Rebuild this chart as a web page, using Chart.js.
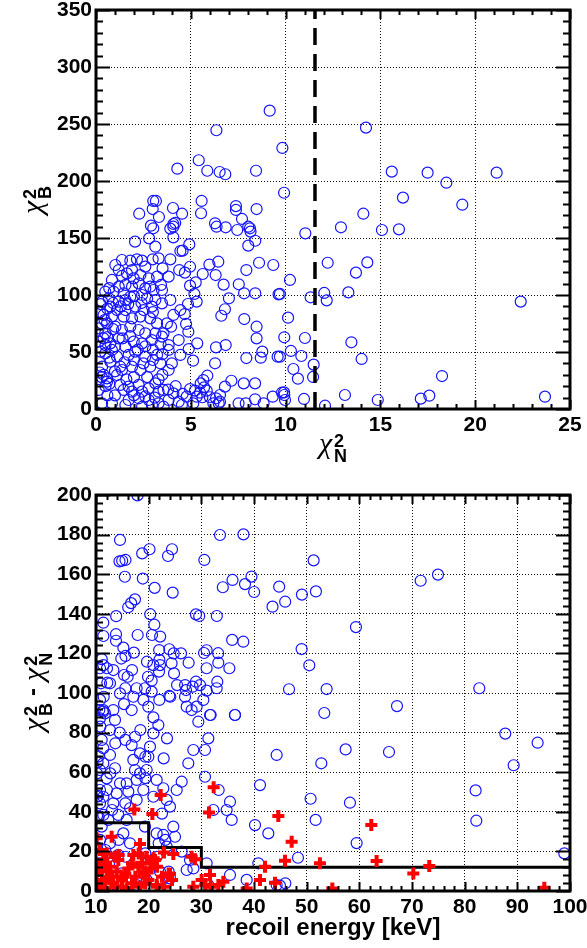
<!DOCTYPE html>
<html>
<head>
<meta charset="utf-8">
<script src="https://cdn.jsdelivr.net/npm/chart.js@4.4.1/dist/chart.umd.min.js"></script>
<style>
  body { margin:0; background:#fff; }
  #wrap { position:relative; width:587px; height:948px; background:#fff; font-family:"Liberation Sans", Arial, sans-serif; }
  canvas { position:absolute; left:0; }
  .ttl { position:absolute; text-align:center; color:#000; white-space:nowrap; }
  .chi { font-family:"Liberation Serif", "DejaVu Serif", serif; font-style:italic; font-size:30px; font-weight:normal; }
  .ix { display:inline-block; vertical-align:-9px; line-height:15px; font-size:18px; font-weight:bold; margin-left:2px; text-align:left; }
  .ix b { display:block; }
  .rot { transform:rotate(-90deg); transform-origin:50% 50%; }
  .dash { font-size:24px; font-weight:bold; margin:0 7px; vertical-align:3px; }
</style>
</head>
<body>
<div id="wrap">
  <canvas id="c1" width="587" height="470" style="top:0"></canvas>
  <canvas id="c2" width="587" height="478" style="top:470px"></canvas>
  <div class="ttl" style="left:96px;width:474px;top:426px;"><span class="chi">χ</span><span class="ix"><b>2</b><b>N</b></span></div>
  <div class="ttl rot" style="left:-118px;width:300px;top:180px;height:40px;line-height:40px;"><span class="chi">χ</span><span class="ix"><b>2</b><b>B</b></span></div>
  <div class="ttl rot" style="left:-118px;width:300px;top:672px;height:40px;line-height:40px;"><span class="chi">χ</span><span class="ix"><b>2</b><b>B</b></span><span class="dash">-</span><span class="chi">χ</span><span class="ix"><b>2</b><b>N</b></span></div>
  <div class="ttl" style="left:96px;width:474px;top:912px;font-size:24px;font-weight:bold;line-height:30px;">recoil energy [keV]</div>
</div>
<script>
// ── DATA: top panel (chi2_N, chi2_B) ──
const topRangeX = [0, 25, 5, 1];     // min, max, major, minor
const topRangeY = [0, 350, 50, 10];
const cutN = [11.55, 11.55];
const cutB = [0, 350];

const topPts = [
  [2.28,171.3],[3.02,182.5],[2.99,175.4],[3.32,168.4],[4.29,210.8],[4.06,176.3],[4.54,171.3],[2.90,160.8],[3.02,158.5],[3.92,158.2],[4.08,162.3],[4.18,163.2],[4.08,159.9],[3.16,182.5],
  [5.42,218.2],[5.87,209.0],[6.35,244.5],[6.52,207.9],[6.82,205.9],[5.57,182.5],[5.54,171.7],[6.28,162.9],[6.36,159.9],[6.84,159.4],[7.38,178.0],[7.38,174.6],[7.45,157.0],[7.70,166.7],[8.03,159.9],[8.12,158.5],[8.15,155.6],[8.47,175.4],[8.44,209.0],[9.16,261.7],[9.83,229.0],[9.92,189.7],
  [2.06,146.8],[2.80,149.7],[4.08,150.6],[8.40,147.6],[8.03,143.3],[3.13,142.4],[4.45,138.6],[4.92,144.4],[4.57,138.9],
  [14.24,246.8],[15.60,208.2],[17.49,207.3],[18.48,198.5],[21.13,207.3],[16.19,185.4],[19.32,179.2],[14.10,171.3],[12.92,159.4],[15.08,157.0],[15.98,157.6],[11.04,154.1],
  [12.22,128.3],[14.31,128.6],[13.71,119.6],[10.23,113.2],[9.70,100.9],[11.32,98.0],[12.04,101.8],[12.17,95.3],[13.31,102.3],[22.40,94.2],[10.13,80.1],[9.93,62.9],[11.02,62.3],[13.47,58.5],[10.28,50.9],[9.70,45.9],[10.83,46.5],[14.01,43.9],[11.48,38.9],[10.41,35.1],[10.65,26.6],[11.45,28.1],[18.25,28.9],[9.92,14.6],[13.13,12.3],[17.58,11.7],[17.13,9.1],[14.86,7.9],[10.97,8.8],[9.97,7.9],[23.68,10.8],[12.08,2.9],
  [4.96,124.8],[4.69,119.6],[5.98,126.7],[6.45,129.2],[5.63,118.4],[6.31,117.5],[8.60,128.3],[9.35,126.3],[7.93,121.9],[4.96,108.2],[5.26,111.1],[6.73,109.1],[7.53,109.4],[5.19,100.9],[4.85,92.1],[5.31,94.2],[7.01,97.1],[7.81,101.5],[8.40,101.5],[9.63,100.6],[4.68,83.3],[6.80,87.5],[6.61,81.8],[7.82,78.9],[8.47,72.2],[4.75,74.6],[4.87,67.8],[8.47,62.0],[4.89,52.6],[5.34,57.6],[6.33,54.1],[6.84,56.1],[8.77,50.3],[8.69,45.0],[7.93,44.7],[9.58,45.9],[5.12,42.4],[6.28,40.1],[7.14,24.8],[8.39,22.5],
  [5.87,29.2],[5.66,25.4],[5.52,22.5],[5.70,19.0],[5.84,16.1],[5.49,14.3],[5.22,16.1],[4.96,17.5],[5.31,10.8],[5.61,10.3],[6.01,10.3],[6.33,9.4],[6.54,12.3],[6.80,19.6],[6.54,6.4],[6.19,5.0],[4.78,10.8],[4.57,13.2],[5.13,5.0],
  [7.79,22.5],[8.39,8.5],[7.90,5.0],[9.32,10.8],[9.81,14.3],[9.93,12.3],[6.47,5.0],[7.52,5.0],[8.84,5.0],
  [1.02,126.3],[1.37,130.7],[1.81,130.1],[2.16,131.3],[2.43,130.1],[2.99,131.3],[3.51,123.4],[1.20,121.9],[1.90,121.9],[2.60,124.9],[3.92,131.3],[4.39,121.9],[3.30,132.2],
  [0.84,113.2],[1.37,116.7],[1.63,119.0],[1.99,114.6],[2.34,117.5],[2.78,114.6],[3.22,116.1],[3.43,108.8],[3.83,116.1],[1.20,107.3],[1.55,108.8],[1.90,107.3],[2.25,110.2],[2.60,105.8],[2.86,107.3],[0.49,102.9],[0.93,102.9],[1.46,101.5],[1.81,98.5],[2.43,100.0],[3.04,104.4],[3.48,104.4],[3.92,95.6],
  [0.32,94.2],[0.67,97.1],[0.76,89.8],[1.20,94.2],[1.55,95.6],[1.11,86.8],[1.55,86.8],[2.07,89.8],[2.51,86.8],[2.95,89.8],[3.13,95.6],[3.48,92.7],[0.40,82.5],[0.84,81.0],[1.46,81.0],[1.90,79.5],[2.34,81.0],[2.86,79.5],[3.22,75.1],[3.74,75.1],[4.08,82.5],[4.45,86.8],
  [0.14,70.8],[0.58,75.1],[0.49,66.4],[1.02,72.2],[1.37,69.3],[1.81,72.2],[2.25,69.3],[2.60,66.4],[3.13,66.4],[3.56,66.4],[3.96,72.2],[0.14,59.1],[0.40,62.0],[0.76,57.6],[1.20,62.0],[0.84,51.8],[1.55,54.7],[1.99,59.1],[2.43,57.6],[2.95,60.5],[3.48,63.5],[3.83,56.1],[4.36,60.5],[0.23,50.3],
  [0.49,48.8],[1.11,45.9],[1.72,47.4],[2.07,50.3],[2.60,45.9],[3.22,47.4],[3.83,51.8],[4.45,47.4],[0.32,37.1],[0.76,41.5],[1.28,37.1],[1.37,34.2],[1.90,37.1],[2.34,34.2],[2.86,37.1],[3.39,40.1],[3.83,34.2],[0.58,26.9],[0.58,24.0],[1.11,29.8],
  [0.14,16.7],[0.32,5.0],[1.28,21.1],[1.46,16.7],[1.72,19.6],[1.90,15.2],[2.25,21.1],[2.43,15.2],[2.78,18.1],[3.13,22.5],[3.30,15.2],[3.56,16.7],[4.08,13.7],[1.72,7.9],[2.25,9.4],[2.78,7.9],[3.30,5.0],[3.83,7.9],[4.36,6.4],[4.53,3.5],[0.84,5.0],[1.55,3.5],[2.43,2.0],[2.95,3.5],[3.56,2.0],
  [0.20,85.0],[0.30,75.0],[0.50,56.0],[0.60,63.0],[0.25,92.0],[0.70,106.0],[0.45,78.0],[0.90,93.0],[0.30,28.0],[0.50,20.0],[0.20,32.0],[0.70,22.0],[0.40,30.0],
  [0.60,88.0],[0.90,70.0],[1.30,90.0],[1.70,92.0],[2.00,99.0],[2.40,93.0],[2.70,97.0],[3.00,85.0],[1.00,55.0],[1.40,62.0],[1.80,64.0],[2.20,52.0],[2.60,55.0],[3.00,52.0],[3.40,57.0],[0.70,45.0],[1.50,41.0],[2.00,43.0],[2.50,40.0],[3.00,43.0],[3.50,48.0],[1.00,33.0],[2.00,28.0],[2.70,28.0],[3.50,30.0],[4.00,40.0],[4.20,20.0],[3.80,17.0],[1.00,12.0],[2.00,12.0],[2.60,11.0],[3.10,10.0],[0.60,12.0],[1.60,26.0],[3.30,26.0]
];

// ── DATA: bottom panel (recoil energy keV, chi2_B - chi2_N) ──
const botRangeX = [10, 100, 10, 2];
const botRangeY = [0, 200, 20, 4];
const cutEnergy = [10, 20, 30, 100];
const cutDiff = [34.5, 22, 12, 12];

const botBlue = [
  [17.88,199.8],[14.56,177.3],[20.16,172.6],[18.77,170.5],[24.43,172.6],[23.67,169.2],[14.46,166.5],[14.97,166.8],[15.60,167.2],[30.57,167.2],[33.54,179.8],[38.00,180.1],[15.48,158.7],[18.89,157.8],[21.14,153.1],[24.56,150.7],[34.08,153.4],[35.92,157.1],[38.29,155.0],[39.52,158.8],[40.03,151.0],[44.78,153.7],[43.51,143.6],[45.92,146.1],
  [17.40,147.3],[16.67,145.4],[16.11,143.3],[13.83,138.8],[20.30,139.8],[28.98,139.7],[29.60,138.9],[32.94,138.9],[11.39,135.5],[21.08,134.5],[11.40,128.8],[13.80,129.7],[13.80,126.4],[17.91,129.3],[20.63,129.3],[22.18,128.5],[35.85,126.8],[37.97,125.9],[15.19,122.9],[17.20,120.4],[21.99,121.7],[23.92,122.1],[24.75,120.0],[30.51,120.2],[31.01,121.6],[33.19,120.1],[11.08,117.1],[14.80,117.4],[15.60,118.7],
  [11.39,114.1],[13.29,111.6],[15.32,109.1],[16.01,108.2],[22.03,116.7],[27.59,115.3],[33.22,115.3],[35.32,112.5],[24.81,109.9],[21.96,110.8],[22.15,114.1],[19.87,108.2],[20.57,106.2],[12.66,104.9],[12.15,105.2],[14.56,99.8],[17.09,98.1],[17.72,102.4],[19.30,102.4],[20.57,100.7],[22.03,96.5],[23.92,98.5],[26.90,98.1],[28.35,103.2],[29.75,104.0],[30.38,96.5],[31.01,101.2],[32.91,102.4],[33.03,105.7],[46.65,101.9],[27.22,93.1],[28.16,91.4],[29.11,93.1],[31.77,88.9],[36.39,88.9],[10.76,96.5],[11.39,91.4],[13.29,91.4],[15.32,94.4],[16.77,91.4],[18.99,96.5],[19.94,93.1],[20.89,87.7],
  [10.76,112.5],[10.95,104.9],[10.63,91.4],[11.71,89.7],
  [12.09,112.5],[16.84,111.6],[19.68,115.8],[20.89,114.1],[24.35,115.0],[26.14,120.0],[31.00,112.5],[28.97,105.7],[27.09,101.5],[25.39,104.0],[26.92,104.0],[24.11,98.1],[15.57,102.4],[11.46,98.1],
  [51.32,167.0],[49.10,149.7],[51.76,151.3],[71.64,156.7],[74.93,159.8],[59.36,133.3],[49.04,122.2],[50.50,114.0],[53.79,102.0],[82.78,102.4],[53.35,89.9],[67.15,93.4],
  [87.71,79.5],[93.85,74.9],[89.30,63.5],[57.40,71.5],[65.63,70.2],[52.78,64.5],[50.75,46.6],[58.22,44.6],[82.08,50.8],[82.21,35.5],[51.70,35.9],[59.49,24.2],[48.35,16.8],[98.92,19.0],[44.93,2.7],
  [11.39,90.6],[10.76,87.2],[13.61,86.4],[12.66,81.3],[11.08,76.3],[11.39,72.1],[12.66,68.7],[11.39,64.5],[10.76,61.1],[12.03,56.9],[13.61,62.0],[14.56,54.4],[13.92,49.3],[11.39,47.6],[10.76,51.0],[10.76,44.3],[13.29,44.3],[11.39,38.4],[12.34,35.9],[14.24,38.4],[16.46,41.8],[17.72,46.0],[16.14,50.2],[15.82,54.4],[17.72,56.1],[18.35,59.4],[17.41,61.1],[17.09,66.2],[18.35,69.5],[20.25,72.9],[20.89,79.6],[21.84,83.8],[17.41,77.9],[16.77,73.7],[19.94,67.8],[19.62,61.1],[21.52,56.1],[18.99,51.0],[20.89,47.6],[22.78,51.9],[23.42,46.0],[24.05,42.6],[25.32,51.0],[26.27,55.2],[27.53,64.5],[28.48,71.2],[30.70,71.2],[31.33,77.1],[31.65,88.9],[29.43,85.5],[30.70,57.7],[32.28,40.9],[34.81,40.9],[35.44,45.1],[35.76,35.9],[40.19,33.3],[42.72,29.1],[44.30,68.7],[41.14,53.5],[36.39,88.9],
  [24.68,32.5],[25.00,27.4],[21.52,29.1],[22.78,28.3],[19.30,32.5],[15.82,35.9],[15.19,29.1],[16.46,24.1],[12.66,24.1],[12.34,17.3],[10.76,16.5],[14.24,18.2],[14.87,8.9],[17.72,16.5],[21.52,17.3],[23.42,22.4],[26.27,19.9],[27.22,10.6],[22.15,9.8],[19.62,5.6],[17.72,3.0],[24.05,6.4],[31.01,14.0],[35.44,8.1],[38.61,5.6],[40.82,14.0],[44.30,3.0],[31.33,3.0],[27.85,15.7],[10.76,5.6],[13.92,4.7],[11.08,32.5],[10.76,25.8],
  [22.85,67.0],[23.48,77.1],[33.29,51.0],[22.53,39.1],[12.09,51.0],[10.19,47.6],[10.51,37.5],[13.04,40.9],[15.57,44.3],[19.37,57.0],[21.90,24.1],[23.16,25.8],[14.30,25.8],[11.77,20.7],[15.57,17.3],[19.37,19.0],[28.49,11.4],[45.95,3.9],[22.53,5.6],[23.80,9.8],[10.51,14.0],
  [18.42,81.3],[15.57,76.3],[13.67,74.6],[10.82,83.0],[14.50,80.0],[10.19,59.4],[12.72,59.4],[19.37,67.8],
  [10.30,65.0],[10.50,68.0],[10.40,48.0],[10.20,38.0],[10.30,10.0],[10.60,3.0],[10.90,8.0],[11.50,12.0],[12.20,2.0],[12.50,14.0],[10.20,22.0]
];

const botRed = [
  [10.13,26.6],[12.97,27.4],[17.28,41.2],[20.70,38.9],[22.28,48.5],[32.34,52.4],[31.46,39.6],[18.35,23.7],[22.91,19.4],[24.68,18.7],[28.16,17.3],[28.80,16.0],[24.05,8.6],[22.91,2.2],[28.48,2.2],[30.06,5.6],[31.65,8.1],[31.77,2.2],[33.23,3.0],[34.18,4.7],[38.61,1.3],[41.14,5.6],[42.09,12.3],[43.99,4.2],[44.62,37.9],[45.89,15.3],[47.15,24.9],
  [10.76,20.7],[12.03,19.0],[13.61,17.3],[11.39,15.7],[14.24,15.7],[10.13,8.9],[11.08,10.6],[12.66,12.3],[13.92,9.8],[15.19,7.2],[11.39,4.7],[13.29,3.9],[14.87,2.2],[16.14,11.4],[18.04,12.3],[18.99,8.9],[19.94,5.6],[20.57,11.4],[21.20,15.7],[17.09,18.2],[19.62,17.3],[15.82,1.3],[18.35,2.2],[21.52,3.0],[10.76,1.3],[12.34,7.2],
  [62.27,33.3],[52.52,14.0],[63.28,15.2],[73.28,12.6],[70.25,8.9],[54.87,1.3],[95.12,1.7],
  [11.14,14.0],[14.30,18.2],[16.84,14.0],[18.10,19.0],[18.73,14.0],[19.37,9.8],[20.32,14.0],[20.95,16.5],[21.58,12.3],[22.53,7.2],[23.80,8.9],[24.43,5.6],[19.37,3.9],[16.84,3.9],[14.94,5.6],[13.04,7.2],[11.14,5.6],[10.19,10.6],[12.09,9.8],[15.57,8.9],[17.47,7.2],[13.67,2.2],[11.77,1.3],[10.00,1.3],[21.58,2.2],[30.76,3.0]
];

// ── STYLE ──
const FONT = { family: '"Liberation Sans", Arial, sans-serif', size: 21, weight: 700 };
const BLUE = '#1414ff';
const RED = '#ff0000';

const toXY = arr => arr.map(([x, y]) => ({ x, y }));
const pairs = (xs, ys) => xs.map((x, i) => ({ x, y: ys[i] }));

// frame + inside ticks on all four sides
const framePlugin = {
  id: 'frame',
  afterDatasetsDraw(chart, args, o) {
    const { ctx, chartArea: a, scales: { x, y } } = chart;
    const isMajor = (v, step) => Math.abs(v / step - Math.round(v / step)) < 1e-6;
    ctx.save();
    ctx.strokeStyle = '#000';
    ctx.lineWidth = 2;
    ctx.beginPath();
    for (let v = o.x[0]; v <= o.x[1] + 1e-9; v += o.x[3]) {
      const px = Math.round(x.getPixelForValue(v)) + 0.5;
      const len = isMajor(v, o.x[2]) ? 9 : 5;
      ctx.moveTo(px, a.bottom); ctx.lineTo(px, a.bottom - len);
      ctx.moveTo(px, a.top); ctx.lineTo(px, a.top + len);
    }
    for (let v = o.y[0]; v <= o.y[1] + 1e-9; v += o.y[3]) {
      const py = Math.round(y.getPixelForValue(v)) + 0.5;
      const len = isMajor(v, o.y[2]) ? 14 : 7;
      ctx.moveTo(a.left, py); ctx.lineTo(a.left + len, py);
      ctx.moveTo(a.right, py); ctx.lineTo(a.right - len, py);
    }
    ctx.stroke();
    ctx.lineWidth = 3;
    ctx.strokeRect(a.left, a.top, a.right - a.left, a.bottom - a.top);
    ctx.restore();
  }
};

function axis(range, fitFn, pad) {
  return {
    type: 'linear', min: range[0], max: range[1],
    ticks: { stepSize: range[2], color: '#000', font: FONT, padding: pad, autoSkip: false, maxRotation: 0 },
    grid: { color: '#111', lineWidth: 1, drawTicks: false },
    border: { display: false, dash: [1, 2] },
    afterFit: fitFn
  };
}

function panel(id, h, padTop, plotBottom, rx, ry, datasets) {
  const xh = h - plotBottom;
  return new Chart(document.getElementById(id), {
    type: 'scatter',
    data: { datasets },
    options: {
      responsive: false, animation: false, events: [],
      layout: { padding: { top: padTop, right: 17, left: 0, bottom: 0 } },
      scales: {
        x: axis(rx, s => { s.height = xh; s.paddingLeft = 0; s.paddingRight = 0; }, 4),
        y: axis(ry, s => { s.width = 96; s.paddingTop = 0; s.paddingBottom = 0; }, 4)
      },
      plugins: { legend: { display: false }, tooltip: { enabled: false }, frame: { x: rx, y: ry } }
    },
    plugins: [framePlugin]
  });
}

// ── TOP PANEL ──
panel('c1', 470, 10, 409, topRangeX, topRangeY, [
  { data: pairs(cutN, cutB), showLine: true, borderColor: '#000', borderWidth: 3.5, borderDash: [17, 9], pointRadius: 0 },
  { data: toXY(topPts), pointStyle: 'circle', pointRadius: 5.5, borderWidth: 1.2, borderColor: BLUE, backgroundColor: 'rgba(0,0,0,0)' }
]);

// ── BOTTOM PANEL ──
panel('c2', 478, 25, 421, botRangeX, botRangeY, [
  { data: toXY(botRed), pointStyle: 'cross', pointRadius: 6, borderWidth: 4, borderColor: RED, backgroundColor: RED },
  { data: pairs(cutEnergy, cutDiff), showLine: true, stepped: 'before', borderColor: '#000', borderWidth: 3, pointRadius: 0 },
  { data: toXY(botBlue), pointStyle: 'circle', pointRadius: 5.5, borderWidth: 1.2, borderColor: BLUE, backgroundColor: 'rgba(0,0,0,0)' }
]);
</script>
</body>
</html>
